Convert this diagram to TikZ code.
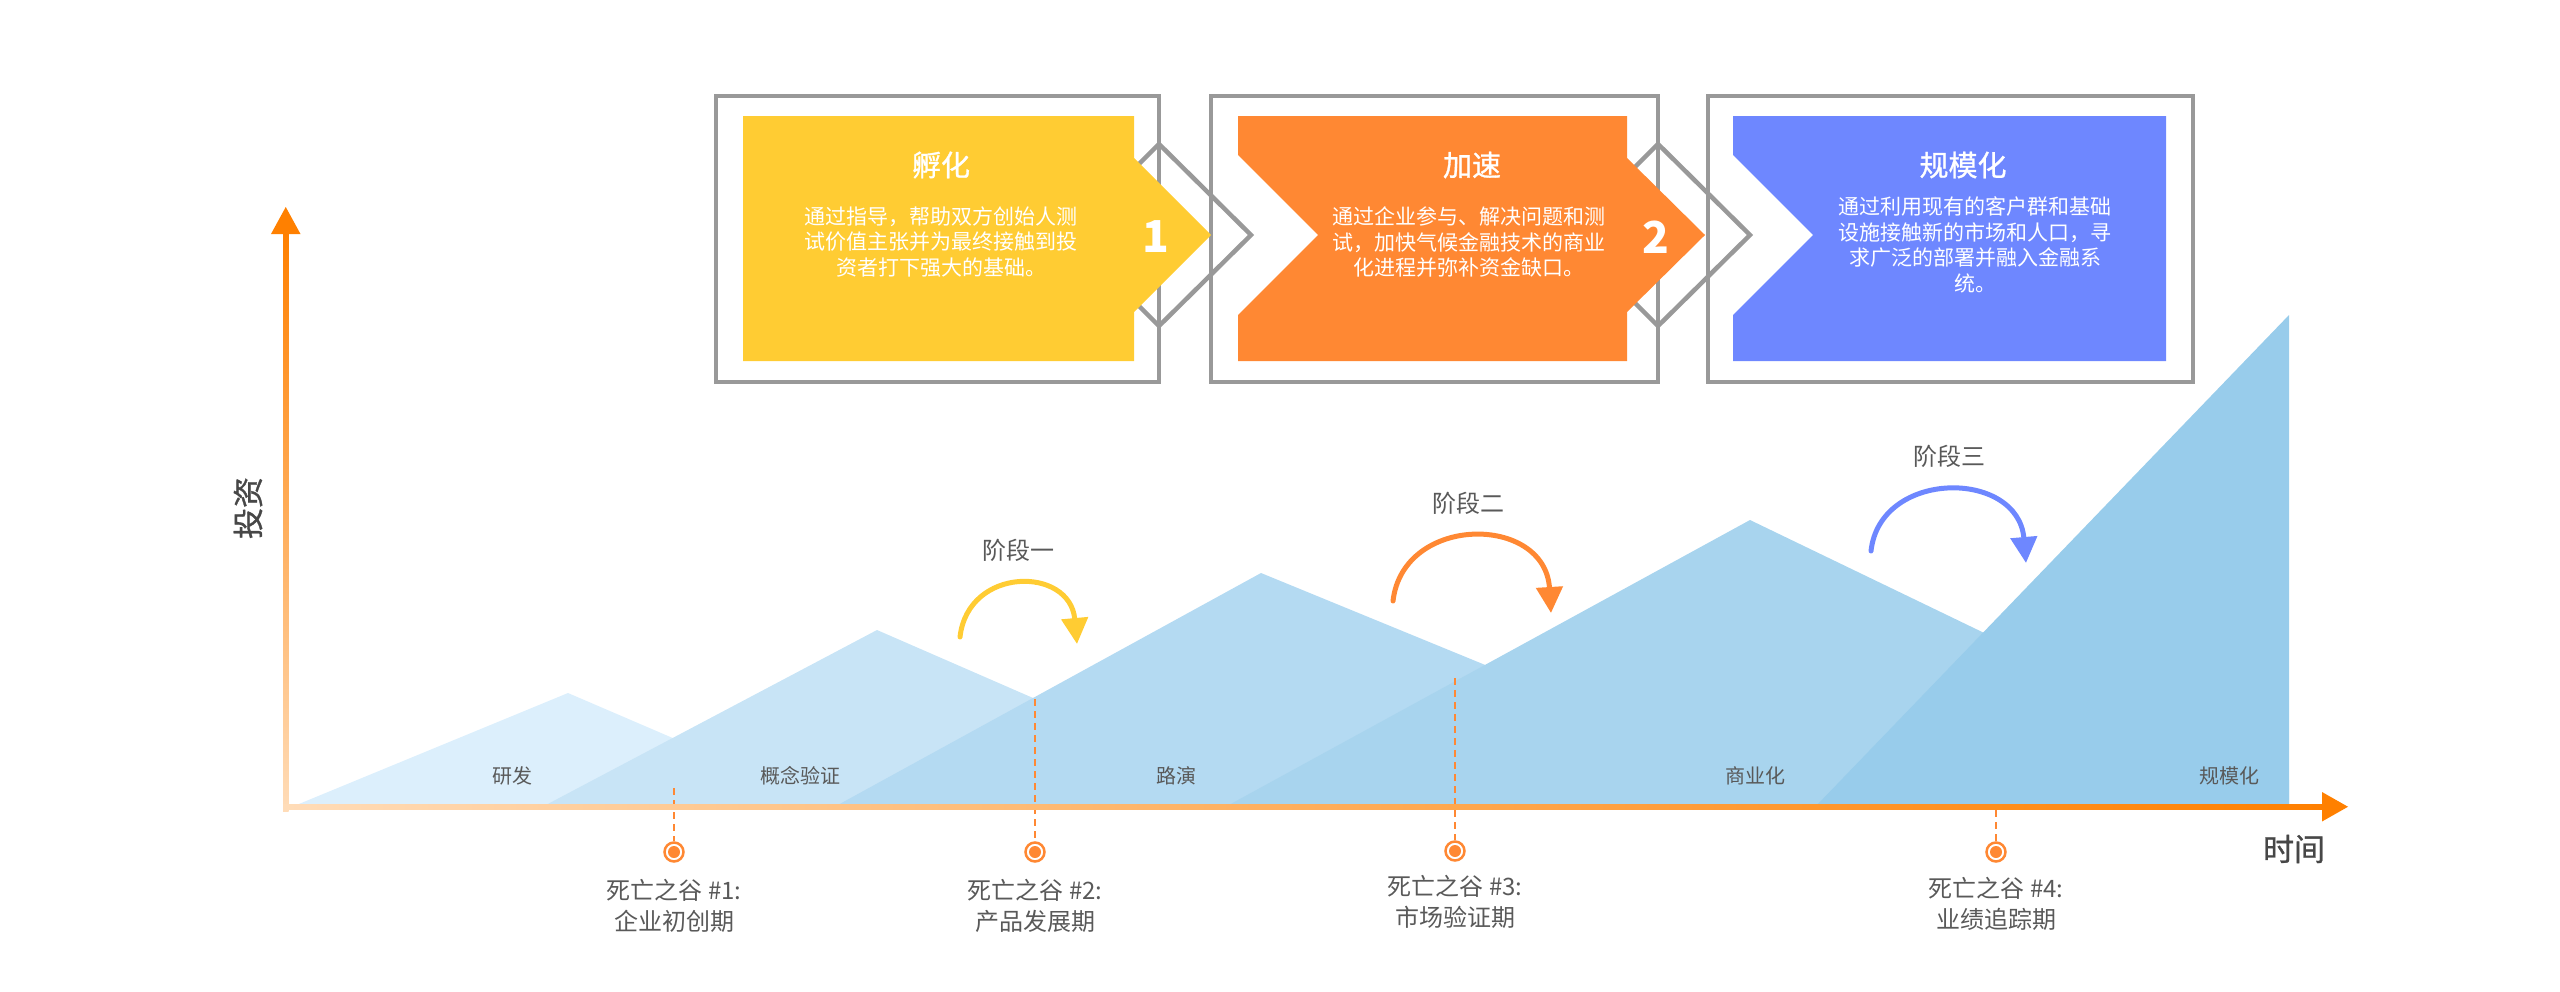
\documentclass[tikz,border=0pt]{standalone}
\usepackage{fontspec}
\setmainfont{Noto Sans CJK SC}
\newfontfamily\cjkmid[FakeBold=1]{Noto Sans CJK SC}
\usepackage{tikz}
\usetikzlibrary{arrows.meta}

\definecolor{framegray}{HTML}{999999}
\definecolor{stepyellow}{HTML}{FFCC33}
\definecolor{steporange}{HTML}{FF8833}
\definecolor{stepblue}{HTML}{6E87FF}
\definecolor{axisorange}{HTML}{FF8000}
\definecolor{axispeach}{HTML}{FFDCB8}
\definecolor{hillA}{HTML}{DCEFFC}
\definecolor{hillB}{HTML}{C8E4F6}
\definecolor{hillC}{HTML}{B4DAF2}
\definecolor{hillD}{HTML}{A8D4EE}
\definecolor{hillE}{HTML}{98CCEB}
\definecolor{labelgray}{HTML}{595959}

\begin{document}
\begin{tikzpicture}[x=1pt,y=1pt,
  outerframe/.style={draw=framegray,line width=4.5pt},
  boxtitle/.style={text=white,font=\fontsize{29}{34}\selectfont\cjkmid},
  boxtext/.style={text=white,align=center,font=\fontsize{21}{25.5}\selectfont},
  stepnum/.style={text=white,font=\fontsize{44}{50}\selectfont\bfseries},
  hilllabel/.style={text=labelgray,font=\fontsize{20}{24}\selectfont},
  stagelabel/.style={text=labelgray,font=\fontsize{24}{28}\selectfont},
  stagearrow/.style={line width=5pt,line cap=round,-{Triangle[length=26pt,width=26pt]}},
  valley/.style={circle,draw=steporange,line width=2.5pt,fill=white,minimum size=19pt,
    path picture={\fill[steporange] (path picture bounding box.center) circle (6pt);}},
  valleyline/.style={draw=steporange,line width=2pt,dash pattern=on 7pt off 5pt},
  valleytext/.style={text=labelgray,align=center,font=\fontsize{24}{31}\selectfont},
  axislabel/.style={text=black!72,font=\fontsize{31}{36}\selectfont\cjkmid}]
\tikzstyle{every node}+=[inner sep=0pt]
\useasboundingbox (0,0) rectangle (2560,-991);

\fill[hillA] (294,-806) -- (568,-693) -- (831,-806) -- cycle;
\fill[hillB] (544,-806) -- (877,-630) -- (1281,-806) -- cycle;
\fill[hillC] (836,-806) -- (1261,-573) -- (1829,-806) -- cycle;
\fill[hillD] (1227,-806) -- (1750,-520) -- (2289,-780) -- (2289,-806) -- cycle;
\fill[hillE] (1816,-806) -- (2289,-315) -- (2289,-806) -- cycle;

\node[hilllabel] (rd) at (512,-776) {研发};
\node[hilllabel] (poc) at (800,-776) {概念验证};
\node[hilllabel] (roadshow) at (1176,-776) {路演};
\node[hilllabel] (biz) at (1755,-776) {商业化};
\node[hilllabel] (scale) at (2229,-776) {规模化};

\coordinate (v1top) at (674,-788);
\coordinate (v2top) at (1035,-699);
\coordinate (v3top) at (1455,-678);
\coordinate (v4top) at (1996,-810);
\node[valley] (v1) at (674,-852) {};
\node[valley] (v2) at (1035,-852) {};
\node[valley] (v3) at (1455,-851) {};
\node[valley] (v4) at (1996,-852) {};
\draw[valleyline] (v1top) -- (v1);
\draw[valleyline] (v2top) -- (v2);
\draw[valleyline] (v3top) -- (v3);
\draw[valleyline] (v4top) -- (v4);
\node[valleytext] (v1text) at (674,-906) {死亡之谷 \#1:\\企业初创期};
\node[valleytext] (v2text) at (1035,-906) {死亡之谷 \#2:\\产品发展期};
\node[valleytext] (v3text) at (1455,-902) {死亡之谷 \#3:\\市场验证期};
\node[valleytext] (v4text) at (1996,-904) {死亡之谷 \#4:\\业绩追踪期};

\shade[bottom color=axispeach,top color=axisorange] (283,-811) rectangle (288.5,-232);
\fill[axisorange] (271,-234) -- (285.75,-207) -- (300.5,-234) -- cycle;
\shade[left color=axispeach,right color=axisorange] (283,-804) rectangle (2323,-809.5);
\fill[axisorange] (2322,-792) -- (2348,-806.75) -- (2322,-821.5) -- cycle;
\node[axislabel,rotate=90] (invest) at (248,-508) {投资};
\node[axislabel] (time) at (2294,-849) {时间};

\node[stagelabel] (s1) at (1018,-550) {阶段一};
\node[stagelabel] (s2) at (1468,-503) {阶段二};
\node[stagelabel] (s3) at (1949,-456) {阶段三};
\draw[stagearrow,stepyellow] (960,-637) .. controls (968,-566) and (1070,-566) .. (1077,-644);
\draw[stagearrow,steporange] (1393,-601) .. controls (1403,-514) and (1545,-514) .. (1551,-613);
\draw[stagearrow,stepblue] (1871,-551) .. controls (1880,-469) and (2018,-469) .. (2026,-563);

\draw[outerframe] (716,-96) rectangle (1159,-382);
\draw[outerframe] (1211,-96) rectangle (1658,-382);
\draw[outerframe] (1708,-96) rectangle (2193,-382);
\draw[outerframe] (1159,-144) -- (1251,-235) -- (1159,-326) -- (1068,-235) -- cycle;
\draw[outerframe] (1658,-144) -- (1750,-235) -- (1658,-326) -- (1567,-235) -- cycle;

\fill[stepyellow] (743,-116) -- (1134,-116) -- (1134,-158) -- (1211,-235) -- (1134,-312) -- (1134,-361) -- (743,-361) -- cycle;
\fill[steporange] (1238,-116) -- (1627,-116) -- (1627,-158) -- (1705,-235) -- (1627,-312) -- (1627,-361) -- (1238,-361) -- (1238,-315) -- (1318,-235) -- (1238,-155) -- cycle;
\fill[stepblue] (1733,-116) -- (2166,-116) -- (2166,-361) -- (1733,-361) -- (1733,-315) -- (1813,-235) -- (1733,-155) -- cycle;

\node[boxtitle] (t1) at (941,-165) {孵化};
\node[boxtext] (b1) at (941,-242) {通过指导，帮助双方创始人测\\试价值主张并为最终接触到投\\资者打下强大的基础。};
\node[stepnum] (n1) at (1156,-237) {1};
\node[boxtitle] (t2) at (1472,-165) {加速};
\node[boxtext] (b2) at (1469,-242) {通过企业参与、解决问题和测\\试，加快气候金融技术的商业\\化进程并弥补资金缺口。};
\node[stepnum] (n2) at (1656,-237) {2};
\node[boxtitle] (t3) at (1963,-165) {规模化};
\node[boxtext] (b3) at (1975,-245) {通过利用现有的客户群和基础\\设施接触新的市场和人口，寻\\求广泛的部署并融入金融系\\统。};
\end{tikzpicture}
\end{document}
